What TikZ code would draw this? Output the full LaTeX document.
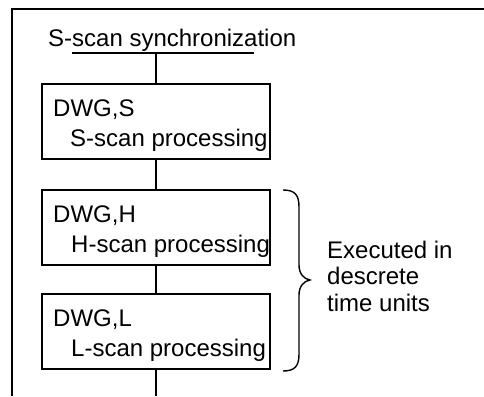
\documentclass[tikz,border=0pt]{standalone}
\usepackage{fontspec}
\setmainfont{Liberation Sans}
\begin{document}
\begin{tikzpicture}[x=1pt,y=-1pt,
  lbl/.style={inner sep=0pt, anchor=base west, font=\fontsize{24}{27}\selectfont},
  procbox/.style={draw, line width=1.4pt, minimum width=228pt, minimum height=75pt, inner sep=0pt},
  wire/.style={line width=1.4pt}]
\useasboundingbox (0,0) rectangle (484,396);

% open frame: top edge and left edge
\coordinate (frameTR) at (484,9);
\coordinate (frameTL) at (12,9);
\coordinate (frameBL) at (12,396);
\draw[wire] (frameTR) -- (frameTL) -- (frameBL);

% synchronization heading and its bar
\node[lbl] (title) at (48,47) {S-scan synchronization};
\coordinate (barL) at (72,53);
\coordinate (barR) at (254,53);
\coordinate (barM) at (156,53);
\draw[wire] (barL) -- (barR);

% processing blocks
\node[procbox] (boxS) at (156,121.5) {};
\node[procbox] (boxH) at (156,227.5) {};
\node[procbox] (boxL) at (156,331.5) {};

\node[lbl] (dwgS) at (53,116) {DWG,S};
\node[lbl] (procS) at (70,146) {S-scan processing};
\node[lbl] (dwgH) at (53,222) {DWG,H};
\node[lbl] (procH) at (71,252) {H-scan processing};
\node[lbl] (dwgL) at (53,326) {DWG,L};
\node[lbl] (procL) at (71,356) {L-scan processing};

% vertical flow line
\coordinate (flowEnd) at (156,396);
\draw[wire] (barM) -- (boxS.north);
\draw[wire] (boxS.south) -- (boxH.north);
\draw[wire] (boxH.south) -- (boxL.north);
\draw[wire] (boxL.south) -- (flowEnd);

% brace grouping H and L blocks
\draw[wire] (283,190) .. controls (295,190) and (299,195) .. (299,207)
  -- (299,265) .. controls (299,274) and (304,279) .. (310,280)
  .. controls (304,281) and (299,286) .. (299,295)
  -- (299,354) .. controls (299,366) and (295,371) .. (283,371);

\node[lbl] (exec1) at (327,258) {Executed in};
\node[lbl] (exec2) at (327,284.5) {descrete};
\node[lbl] (exec3) at (327,311) {time units};
\end{tikzpicture}
\end{document}
